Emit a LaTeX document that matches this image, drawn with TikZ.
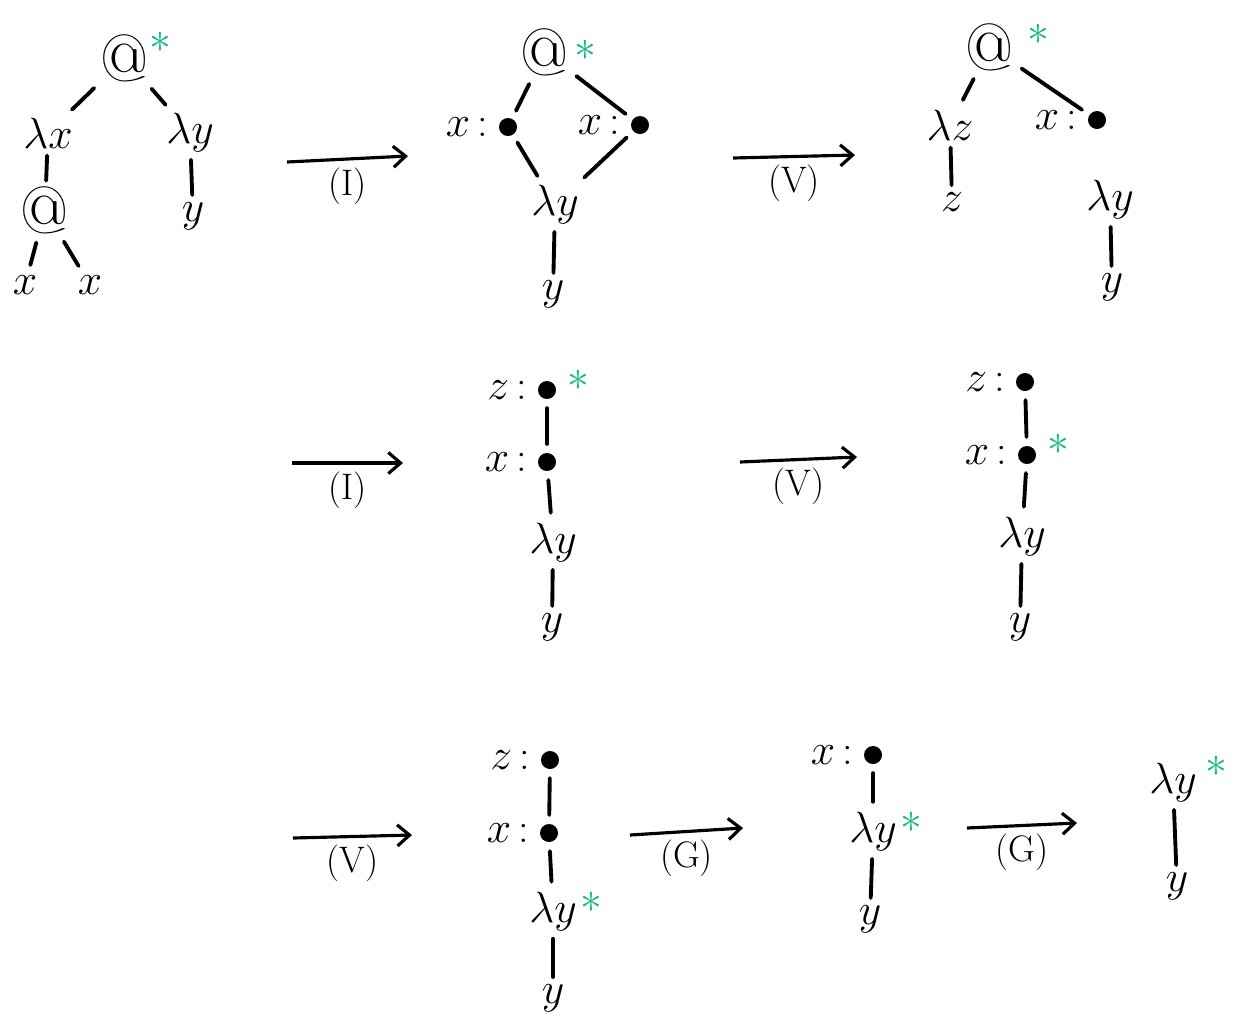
\documentclass[tikz,border=0pt]{standalone}
\usepackage{amsmath}
\usetikzlibrary{arrows.meta,positioning}
\definecolor{stargreen}{RGB}{25,185,135}
\begin{document}
\begin{tikzpicture}[x=0.02cm,y=-0.02cm,
	every node/.style={font=\fontsize{24}{28}\selectfont,inner sep=1pt},
	app/.style={font=\fontsize{38}{40}\selectfont,inner sep=0pt},
	dot/.style={circle,fill,inner sep=0pt,minimum size=0.36cm},
	hole/.style={left=5pt of #1},
	star/.style={text=stargreen,font=\fontsize{34}{38}\selectfont},
	edge/.style={line width=2.2pt,line cap=round,shorten <=5pt,shorten >=5pt},
	stem/.style={edge,shorten <=3pt,shorten >=3pt},
	rule/.style={line width=1.8pt,-{Straight Barb[length=7pt,width=12pt,line width=1.8pt]}},
	rulename/.style={below=3pt,font=\fontsize{21}{24}\selectfont}]
	\useasboundingbox (0,0) rectangle (1239,1019);
	\node[app] (p1app) at (125,58) {@};
	\node[star] (p1star) at (160,42) {$\ast$};
	\node (p1lx) at (48,133) {$\lambda x$};
	\node (p1ly) at (190,133) {$\lambda y$};
	\node[app] (p1app2) at (45,210) {@};
	\node (p1xa) at (25,285) {$x$};
	\node (p1xb) at (90,285) {$x$};
	\node (p1y) at (193,216) {$y$};
	\coordinate (a1s) at (287,162);
	\coordinate (a1e) at (408,156);
	\draw[rule] (a1s) -- node[rulename] (r1) {(I)} (a1e);
	\node[app] (p2app) at (545,52) {@};
	\node[star] (p2star) at (585,50) {$\ast$};
	\node[dot] (p2d1) at (508,127) {};
	\node[hole=p2d1] (p2x1) {$x$\,:};
	\node[dot] (p2d2) at (640,125) {};
	\node[hole=p2d2] (p2x2) {$x$\,:};
	\node (p2ly) at (555,205) {$\lambda y$};
	\node (p2y) at (553,294) {$y$};
	\coordinate (a2s) at (733,158);
	\coordinate (a2e) at (855,155);
	\draw[rule] (a2s) -- node[rulename] (r2) {(V)} (a2e);
	\node[app] (p3app) at (990,47) {@};
	\node[star] (p3star) at (1038,34) {$\ast$};
	\node (p3lz) at (950,125) {$\lambda z$};
	\node (p3z) at (952,202) {$z$};
	\node[dot] (p3d) at (1097,120) {};
	\node[hole=p3d] (p3x) {$x$\,:};
	\node (p3ly) at (1110,200) {$\lambda y$};
	\node (p3y) at (1112,287) {$y$};
	\coordinate (a3s) at (292,463);
	\coordinate (a3e) at (403,463);
	\draw[rule] (a3s) -- node[rulename] (r3) {(I)} (a3e);
	\node[dot] (p4d1) at (547,390) {};
	\node[hole=p4d1] (p4z) {$z$\,:};
	\node[star] (p4star) at (578,380) {$\ast$};
	\node[dot] (p4d2) at (547,462) {};
	\node[hole=p4d2] (p4x) {$x$\,:};
	\node (p4ly) at (553,543) {$\lambda y$};
	\node (p4y) at (552,627) {$y$};
	\coordinate (a4s) at (740,462);
	\coordinate (a4e) at (857,457);
	\draw[rule] (a4s) -- node[rulename] (r4) {(V)} (a4e);
	\node[dot] (p5d1) at (1025,382) {};
	\node[hole=p5d1] (p5z) {$z$\,:};
	\node[dot] (p5d2) at (1027,455) {};
	\node[hole=p5d2] (p5x) {$x$\,:};
	\node[star] (p5star) at (1058,444) {$\ast$};
	\node (p5ly) at (1022,537) {$\lambda y$};
	\node (p5y) at (1020,627) {$y$};
	\coordinate (a5s) at (293,838);
	\coordinate (a5e) at (412,835);
	\draw[rule] (a5s) -- node[rulename] (r5) {(V)} (a5e);
	\node[dot] (p6d1) at (550,760) {};
	\node[hole=p6d1] (p6z) {$z$\,:};
	\node[dot] (p6d2) at (549,833) {};
	\node[hole=p6d2] (p6x) {$x$\,:};
	\node (p6ly) at (553,912) {$\lambda y$};
	\node[star] (p6star) at (591,902) {$\ast$};
	\node (p6y) at (553,998) {$y$};
	\coordinate (a6s) at (630,835);
	\coordinate (a6e) at (743,828);
	\draw[rule] (a6s) -- node[rulename] (r6) {(G)} (a6e);
	\node[dot] (p7d) at (873,755) {};
	\node[hole=p7d] (p7x) {$x$\,:};
	\node (p7ly) at (873,832) {$\lambda y$};
	\node[star] (p7star) at (911,822) {$\ast$};
	\node (p7y) at (870,919) {$y$};
	\coordinate (a7s) at (967,828);
	\coordinate (a7e) at (1077,823);
	\draw[rule] (a7s) -- node[rulename] (r7) {(G)} (a7e);
	\node (p8ly) at (1173,783) {$\lambda y$};
	\node[star] (p8star) at (1216,766) {$\ast$};
	\node (p8y) at (1177,886) {$y$};
	\foreach \a/\b in {p1app/p1lx,p1app/p1ly,p1app2/p1xa,p1app2/p1xb,
		p2app/p2d1,p2app/p2d2,p2d1/p2ly,p2d2/p2ly,p3app/p3lz,p3app/p3d,
		p4d1/p4d2,p4d2/p4ly,p5d1/p5d2,p5d2/p5ly,p6d1/p6d2,p6d2/p6ly,p7d/p7ly}
		\draw[edge] (\a) -- (\b);
	\foreach \a/\b in {p1lx/p1app2,p1ly/p1y,p2ly/p2y,p3lz/p3z,p3ly/p3y,
		p4ly/p4y,p5ly/p5y,p6ly/p6y,p7ly/p7y,p8ly/p8y}
		\draw[stem] (\a) -- (\b);
\end{tikzpicture}
\end{document}
